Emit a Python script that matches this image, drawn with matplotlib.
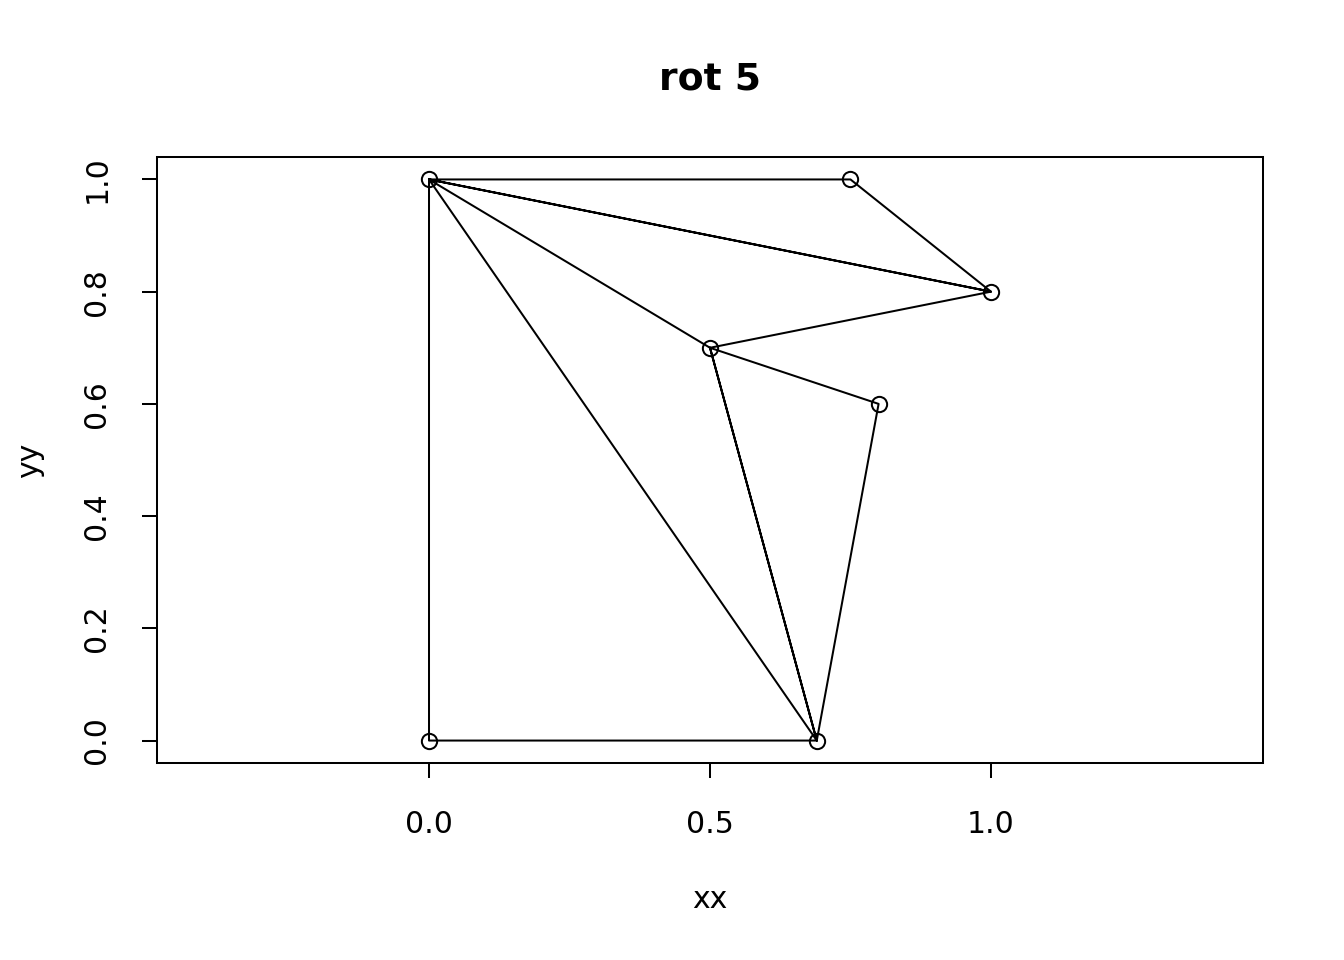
import matplotlib
matplotlib.use("Agg")
import matplotlib.pyplot as plt

# vertices of the figure
px = [0.0, 0.0, 0.75, 1.0, 0.5, 0.8, 0.69]
py = [0.0, 1.0, 1.0, 0.8, 0.7, 0.6, 0.0]
# path through vertices (indices)
path = [6, 0, 1, 2, 3, 1, 3, 4, 1, 6, 4, 5, 6, 4]
xticks = [0.0, 0.5, 1.0]
yticks = [0.0, 0.2, 0.4, 0.6, 0.8, 1.0]

W, H = 1344, 960
fig = plt.figure(figsize=(W / 100, H / 100), dpi=100)
ax = fig.add_axes([157 / W, 1 - 763 / H, (1263 - 157) / W, (763 - 157) / H])

lx = [px[i] for i in path]
ly = [py[i] for i in path]
ax.plot(lx, ly, color="black", lw=1.45)
ax.plot(px, py, linestyle="none", marker="o", markersize=11, markerfacecolor="none",
        markeredgecolor="black", markeredgewidth=1.45)

ax.set_xlim(-0.484, 1.484)
ax.set_ylim(-0.04, 1.04)
ax.set_xticks(xticks)
ax.set_xticklabels([f"{v:.1f}" for v in xticks])
ax.set_yticks(yticks)
ax.set_yticklabels([f"{v:.1f}" for v in yticks], rotation=90, va="center")
for s in ax.spines.values():
    s.set_linewidth(1.45)
ax.tick_params(axis="both", length=10.8, width=1.45, labelsize=21.5)
ax.tick_params(axis="x", pad=23)
ax.tick_params(axis="y", pad=22)

fig.text(710 / W, 1 - 900 / H, "xx", ha="center", va="center", fontsize=21.5)
fig.text(30 / W, 1 - 460 / H, "yy", ha="center", va="center", rotation=90, fontsize=21.5)
fig.text(710 / W, 1 - 80 / H, "rot 5", ha="center", va="center", fontsize=27.2, fontweight="bold")

fig.savefig("out.png", dpi=100)
